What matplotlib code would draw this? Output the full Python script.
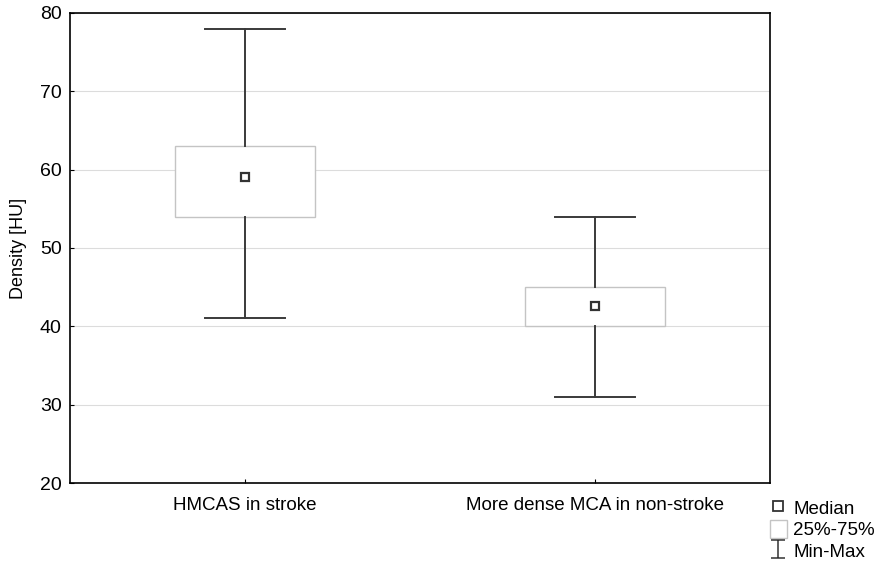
import matplotlib.pyplot as plt
from matplotlib.lines import Line2D
from matplotlib.patches import Rectangle
from matplotlib.path import Path

plt.rcParams['font.family'] = ['Liberation Sans', 'DejaVu Sans']

# data
groups = ['HMCAS in stroke', 'More dense MCA in non-stroke']
mins = [41, 31]
q1 = [54, 40]
medians = [59.1, 42.6]
q3 = [63, 45]
maxs = [78, 54]
yticks = [20, 30, 40, 50, 60, 70, 80]

fig = plt.figure(figsize=(8.77, 5.64), dpi=100)
ax = fig.add_axes([0.0798, 0.1436, 0.7982, 0.8334])

stats = []
for i in range(len(groups)):
    stats.append(dict(med=medians[i], q1=q1[i], q3=q3[i],
                      whislo=mins[i], whishi=maxs[i], fliers=[], label=groups[i]))

ax.bxp(stats, positions=range(len(groups)), widths=0.4, patch_artist=True,
       showfliers=False, capwidths=0.227,
       boxprops=dict(facecolor='white', edgecolor='#c4c4c4', linewidth=1.0),
       whiskerprops=dict(color='#3a3a3a', linewidth=1.4),
       capprops=dict(color='#3a3a3a', linewidth=1.4),
       medianprops=dict(linewidth=0),
       zorder=3)
ax.plot(range(len(groups)), medians, 's', ms=6, mfc='white', mec='#333333',
        mew=1.6, ls='none', zorder=4)

ax.set_xlim(-0.5, 1.5)
ax.set_ylim(20, 80)
ax.set_yticks(yticks)
ax.yaxis.grid(True, color='#dcdcdc', linewidth=0.8, zorder=0)
ax.set_axisbelow(True)
ax.tick_params(direction='in', length=3, labelsize=14, colors='black', pad=6)
ax.tick_params(axis='x', labelsize=13.5, pad=10)
ax.set_ylabel('Density [HU]', fontsize=13, labelpad=9)
for s in ax.spines.values():
    s.set_linewidth(1.2)

# whisker symbol (I with caps) for the Min-Max legend entry
whisker = Path([(-0.75, 1), (0.75, 1), (0, 1), (0, -1), (-0.75, -1), (0.75, -1)],
               [Path.MOVETO, Path.LINETO, Path.MOVETO, Path.LINETO,
                Path.MOVETO, Path.LINETO])
handles = [
    Line2D([], [], marker='s', ls='none', ms=6.5, mfc='white', mec='#333333', mew=1.3),
    Rectangle((0, 0), 1, 1, facecolor='white', edgecolor='#c4c4c4'),
    Line2D([], [], marker=whisker, ls='none', ms=13, mfc='none',
           mec='#333333', mew=1.1),
]
fig.legend(handles, ['Median', '25%-75%', 'Min-Max'],
           loc='lower left', bbox_to_anchor=(0.863, -0.018),
           frameon=False, fontsize=13.5, handlelength=0.9, handleheight=1.1,
           handletextpad=0.35, labelspacing=0.12, borderpad=0.2)

fig.savefig('out.png', dpi=100)
